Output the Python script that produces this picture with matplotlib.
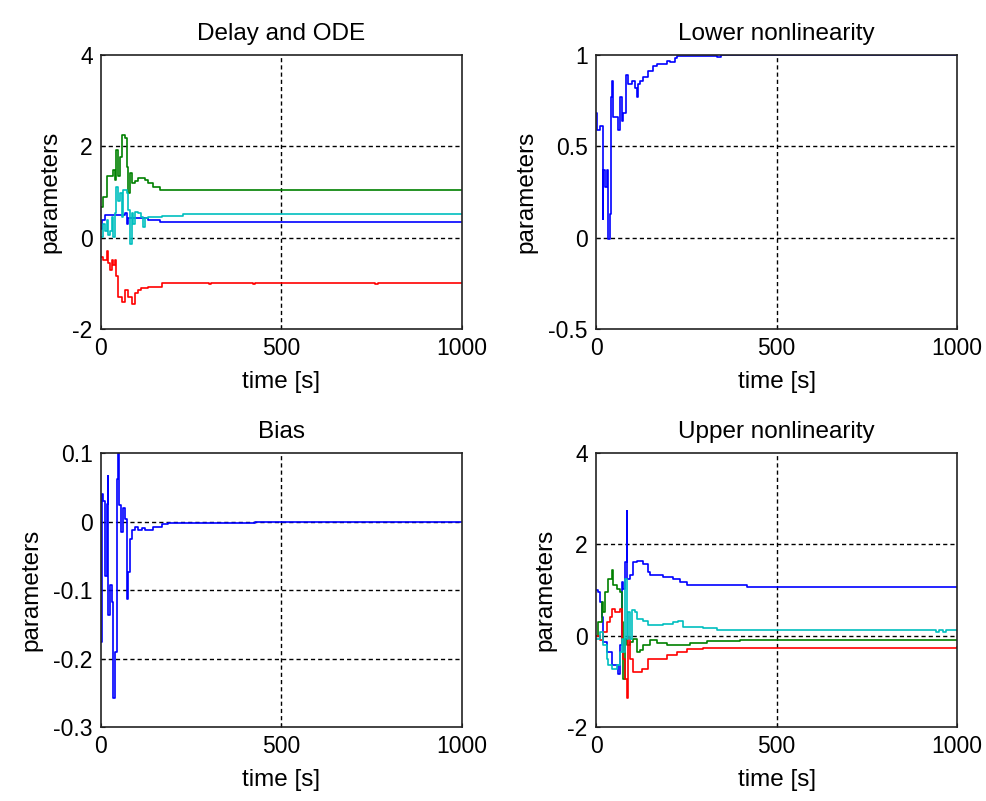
import matplotlib
matplotlib.use("Agg")
import matplotlib.pyplot as plt

plt.rcParams['font.family'] = ['Liberation Sans', 'DejaVu Sans']

# ---- Delay and ODE ----
t_delay_blue = [0, 2, 11, 66, 71, 76, 103, 131, 164, 1000]
v_delay_blue = [0.18, 0.38, 0.49, 0.53, 0.31, 0.42, 0.42, 0.38, 0.34, 0.34]

t_delay_green = [0, 6.5, 15.7, 25, 34, 39, 43, 48, 53, 57, 66, 71, 76, 80, 85,
                 94, 103, 122, 131, 145, 164, 1000]
v_delay_green = [0.68, 0.9, 1.34, 1.34, 1.48, 1.26, 1.92, 1.34, 1.77, 2.25, 2.18,
                 1.55, 0.97, 1.41, 1.19, 1.23, 1.30, 1.26, 1.19, 1.12, 1.04, 1.04]

t_delay_red = [0, 6.5, 15.7, 20, 25, 29.5, 34, 39, 43, 48, 57, 66, 76, 85, 94,
               103, 112, 131, 168, 300, 306, 420, 428, 760, 768, 1000]
v_delay_red = [-0.42, -0.49, -0.30, -0.56, -0.71, -0.49, -0.60, -0.49, -0.85,
               -1.29, -1.40, -1.15, -1.29, -1.46, -1.22, -1.15, -1.11, -1.07,
               -0.99, -1.02, -0.99, -1.02, -0.99, -1.02, -0.99, -0.99]

t_delay_cyan = [0, 6.5, 11, 15.7, 20, 25, 29.5, 34, 39, 43, 48, 53, 57, 62, 71,
                76, 80, 85, 89, 94, 103, 112, 117, 122, 131, 168, 227, 1000]
v_delay_cyan = [0.02, 0.31, 0.15, 0.38, 0.05, 0.15, 0.45, 0.02, 0.53, 1.12, 0.80,
                0.97, 0.45, 1.04, 0.97, 0.60, -0.13, 0.53, 0.31, 0.57, 0.53, 0.45,
                0.24, 0.42, 0.45, 0.48, 0.52, 0.52]

# ---- Lower nonlinearity ----
t_lower = [0, 2, 11, 18.5, 20.3, 25, 29.5, 34, 39, 40.6, 43.4, 46, 62, 66.5, 71,
           76, 83, 89, 99, 108, 113, 117, 122, 131, 145, 159, 168, 196, 205, 219,
           223, 335, 345, 360, 1000]
v_lower = [0.68, 0.59, 0.61, 0.10, 0.37, 0.28, 0.37, -0.01, 0.13, 0.77, 0.86, 0.66,
           0.59, 0.77, 0.64, 0.68, 0.89, 0.84, 0.86, 0.82, 0.77, 0.84, 0.86, 0.88,
           0.91, 0.94, 0.95, 0.97, 0.96, 0.985, 0.995, 0.99, 1.0, 1.0, 1.0]

# ---- Bias ----
t_bias = [0, 2, 6.5, 11, 16, 18.5, 20.3, 25, 29.5, 34, 38.8, 43.4, 46, 50, 55, 62,
          66, 71, 76, 80, 85, 94, 103, 113, 122, 145, 168, 186, 427, 1000]
v_bias = [-0.176, 0.04, 0.03, -0.079, 0.025, 0.067, -0.137, -0.093, -0.118, -0.258,
          -0.19, 0.062, 0.1, 0.024, -0.016, 0.02, 0.004, -0.113, -0.074, -0.026,
          -0.012, -0.008, -0.012, -0.009, -0.013, -0.008, -0.004, -0.002, 0.0, 0.0]

# ---- Upper nonlinearity ----
t_upper_blue = [0, 6.5, 11, 15.7, 20.3, 29.5, 43, 62, 66.5, 71, 75.7, 80.3, 85,
                86.8, 94, 101.6, 112.6, 131, 145, 150, 186, 214, 233, 251, 408,
                417, 1000]
v_upper_blue = [0.99, 0.95, 0.73, 0.40, -0.14, -0.36, -0.65, -0.83, -0.21, 1.17,
                1.03, 1.61, 2.73, 1.24, 1.32, 1.61, 1.64, 1.57, 1.39, 1.32, 1.28,
                1.24, 1.17, 1.10, 1.10, 1.07, 1.07]

t_upper_green = [0, 6.5, 15.7, 20.3, 24.9, 34.2, 43.4, 48, 57.3, 66.5, 71, 75.7,
                 80.3, 85, 94, 103.4, 112.6, 122, 131, 149.6, 168, 196, 260, 307,
                 399, 1000]
v_upper_green = [0.0, 0.30, 0.73, 0.52, 0.95, 1.24, 1.43, 1.10, 1.03, 0.95, 0.30,
                 -0.94, -0.07, -0.21, -0.14, -0.07, -0.36, -0.32, -0.21, -0.10,
                 -0.17, -0.21, -0.17, -0.12, -0.10, -0.10]

t_upper_red = [0, 11, 20.3, 29.5, 38.8, 43.4, 52.6, 66.5, 71, 75.7, 80.3, 85,
               89.6, 94, 101.6, 112.6, 126.5, 145, 168, 196, 223.5, 251, 297, 1000]
v_upper_red = [0.0, -0.1, 0.08, 0.30, 0.41, 0.59, 0.52, 0.59, -0.14, -0.50, -0.94,
               -1.37, -0.03, -0.50, -0.79, -0.79, -0.72, -0.50, -0.50, -0.43,
               -0.36, -0.30, -0.27, -0.25]

t_upper_cyan = [0, 11, 20.3, 29.5, 34.2, 43.4, 57.3, 66.5, 71, 75.7, 80.3, 85,
                89.6, 94, 98.8, 108, 112.6, 131, 145, 186.5, 214, 228, 242, 297,
                334, 942, 950, 962, 970, 1000]
v_upper_cyan = [-0.07, 0.08, -0.21, -0.50, -0.65, -0.72, -0.65, -0.36, -0.07,
                -0.36, 1.24, -0.07, 0.52, -0.07, 0.56, 0.52, 0.37, 0.33, 0.23,
                0.26, 0.30, 0.33, 0.19, 0.17, 0.12, 0.08, 0.12, 0.08, 0.12, 0.12]

BLUE, GREEN, RED, CYAN = '#0000ff', '#008000', '#ff0000', '#00bfbf'
TICK_FS = 16.5
LABEL_FS = 17.5

fig = plt.figure(figsize=(9.87, 8.01), dpi=100)
w, h = 0.3658, 0.342
ax_tl = fig.add_axes([0.1023, 0.5893, w, h])
ax_tr = fig.add_axes([0.6039, 0.5893, w, h])
ax_bl = fig.add_axes([0.1023, 0.0924, w, h])
ax_br = fig.add_axes([0.6039, 0.0924, w, h])


def style(ax, title, ylim, yticks, yticklabels):
    ax.set_xlim(0, 1000)
    ax.set_ylim(*ylim)
    ax.set_xticks([0, 500, 1000])
    ax.set_yticks(yticks)
    ax.set_yticklabels(yticklabels)
    ax.grid(True, color='black', linestyle=(0, (3, 2.2)), linewidth=1.0)
    # no dashed grid on top of the box edges
    for tk, loc in zip(ax.xaxis.get_major_ticks(), ax.get_xticks()):
        if loc in (0, 1000):
            tk.gridline.set_visible(False)
    for tk, loc in zip(ax.yaxis.get_major_ticks(), ax.get_yticks()):
        if loc in ylim:
            tk.gridline.set_visible(False)
    ax.tick_params(direction='in', length=3, labelsize=TICK_FS, pad=6)
    for s in ax.spines.values():
        s.set_linewidth(1.2)
        s.set_color('#222222')
    ax.set_title(title, fontsize=LABEL_FS, pad=11)
    ax.set_xlabel('time [s]', fontsize=LABEL_FS, labelpad=8)
    ax.set_ylabel('parameters', fontsize=LABEL_FS, labelpad=8)


lw = 1.2
ax_tl.plot(t_delay_blue, v_delay_blue, color=BLUE, lw=lw, drawstyle='steps-post')
ax_tl.plot(t_delay_green, v_delay_green, color=GREEN, lw=lw, drawstyle='steps-post')
ax_tl.plot(t_delay_red, v_delay_red, color=RED, lw=lw, drawstyle='steps-post')
ax_tl.plot(t_delay_cyan, v_delay_cyan, color=CYAN, lw=lw, drawstyle='steps-post')
style(ax_tl, 'Delay and ODE', (-2, 4), [-2, 0, 2, 4], ['-2', '0', '2', '4'])

ax_tr.plot(t_lower, v_lower, color=BLUE, lw=lw, drawstyle='steps-post')
style(ax_tr, 'Lower nonlinearity', (-0.5, 1), [-0.5, 0, 0.5, 1],
      ['-0.5', '0', '0.5', '1'])

ax_bl.plot(t_bias, v_bias, color=BLUE, lw=lw, drawstyle='steps-post')
style(ax_bl, 'Bias', (-0.3, 0.1), [-0.3, -0.2, -0.1, 0, 0.1],
      ['-0.3', '-0.2', '-0.1', '0', '0.1'])

ax_br.plot(t_upper_blue, v_upper_blue, color=BLUE, lw=lw, drawstyle='steps-post')
ax_br.plot(t_upper_green, v_upper_green, color=GREEN, lw=lw, drawstyle='steps-post')
ax_br.plot(t_upper_red, v_upper_red, color=RED, lw=lw, drawstyle='steps-post')
ax_br.plot(t_upper_cyan, v_upper_cyan, color=CYAN, lw=lw, drawstyle='steps-post')
style(ax_br, 'Upper nonlinearity', (-2, 4), [-2, 0, 2, 4], ['-2', '0', '2', '4'])

fig.savefig('out.png', dpi=100)
